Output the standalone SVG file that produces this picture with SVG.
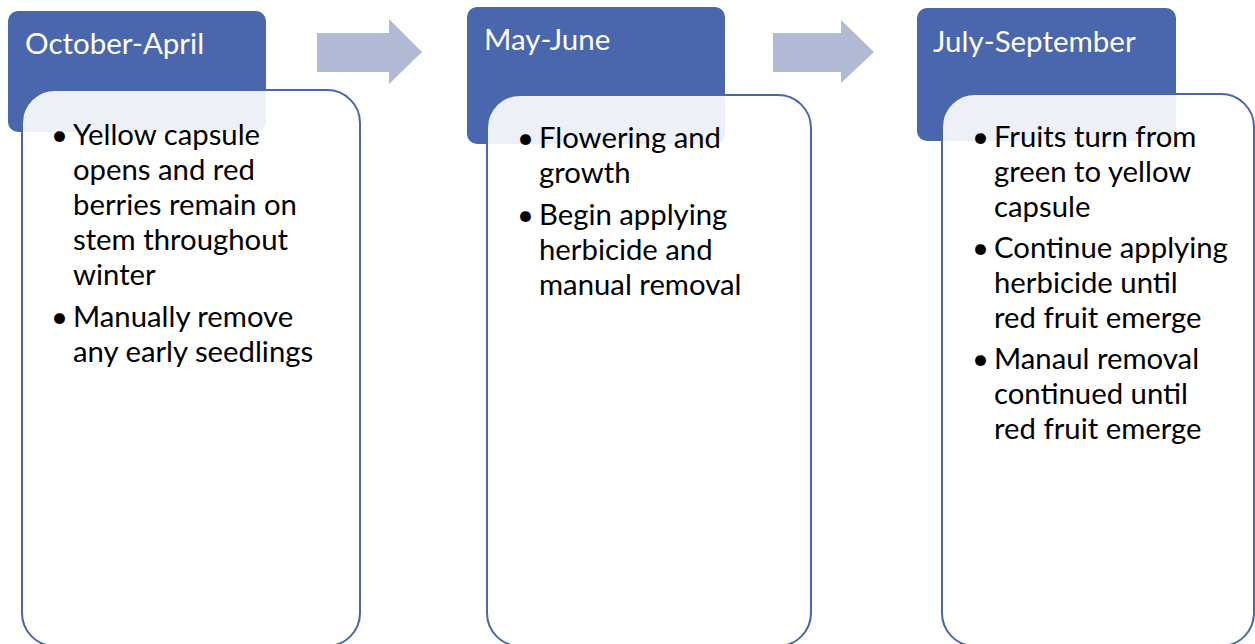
<svg xmlns="http://www.w3.org/2000/svg" width="1255" height="644" viewBox="0 0 1255 644">
<style>
.hdr{fill:#4a66ac}
.card{fill:#ffffff;fill-opacity:0.9;stroke:#4a66ac;stroke-width:2}
.arrow{fill:#b1b9d4}
.ht{font-family:Lato,"Liberation Sans",sans-serif;font-size:29.5px;fill:#ffffff}
.bt{font-family:Lato,"Liberation Sans",sans-serif;font-size:29.3px;fill:#000000}
</style>
<rect width="1255" height="644" fill="#ffffff"/>
<g id="connectors">
<polygon class="arrow" points="317,33 389,33 389,19 422,52 389,84 389,72 317,72"/>
<polygon class="arrow" points="773,33 841,33 841,20 874,52 841,83 841,72 773,72"/>
</g>
<g id="node-october-april">
<rect class="hdr" x="8" y="11" width="258" height="121" rx="10"/>
<rect class="card" x="22" y="90" width="338" height="556" rx="33"/>
<text class="ht" x="25" y="54">October-April</text>
<g class="bt">
<text x="51" y="145">•</text><text x="73" y="145">Yellow capsule</text>
<text x="73" y="180">opens and red</text>
<text x="73" y="215">berries remain on</text>
<text x="73" y="250">stem throughout</text>
<text x="73" y="285">winter</text>
<text x="51" y="327">•</text><text x="73" y="327">Manually remove</text>
<text x="73" y="362">any early seedlings</text>
</g>
</g>
<g id="node-may-june">
<rect class="hdr" x="467" y="7" width="258" height="137" rx="10"/>
<rect class="card" x="487" y="95" width="324" height="551" rx="33"/>
<text class="ht" x="484" y="50">May-June</text>
<g class="bt">
<text x="517" y="148">•</text><text x="539" y="148">Flowering and</text>
<text x="539" y="183">growth</text>
<text x="517" y="225">•</text><text x="539" y="225">Begin applying</text>
<text x="539" y="260">herbicide and</text>
<text x="539" y="295">manual removal</text>
</g>
</g>
<g id="node-july-september">
<rect class="hdr" x="917" y="8" width="259" height="133" rx="10"/>
<rect class="card" x="942" y="94" width="312" height="552" rx="33"/>
<text class="ht" x="933" y="52">July-September</text>
<g class="bt">
<text x="972" y="147">•</text><text x="994" y="147">Fruits turn from</text>
<text x="994" y="182">green to yellow</text>
<text x="994" y="217">capsule</text>
<text x="972" y="258">•</text><text x="994" y="258">Continue applying</text>
<text x="994" y="293">herbicide until</text>
<text x="994" y="328">red fruit emerge</text>
<text x="972" y="369">•</text><text x="994" y="369">Manaul removal</text>
<text x="994" y="404">continued until</text>
<text x="994" y="439">red fruit emerge</text>
</g>
</g>
</svg>
